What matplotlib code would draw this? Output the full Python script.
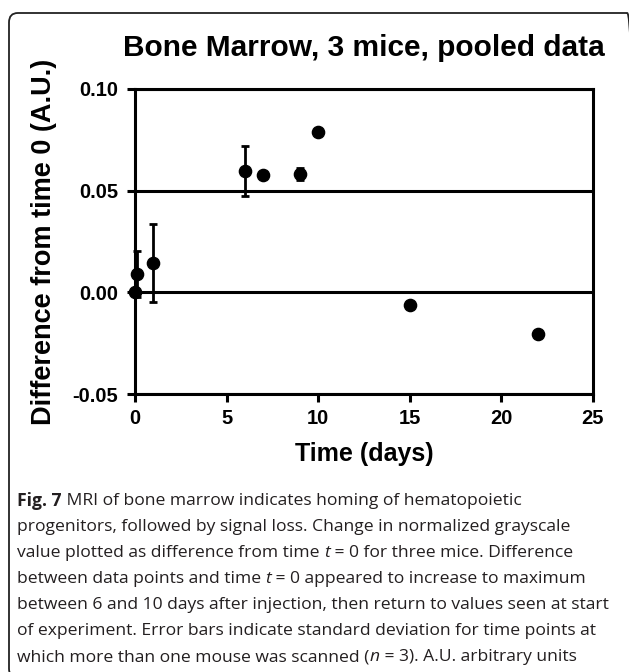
import matplotlib
matplotlib.use("Agg")
import matplotlib.pyplot as plt
from matplotlib.patches import FancyBboxPatch

# ---- data ----
time_days = [0, 0.1, 1, 6, 7, 9, 10, 15, 22]
diff_values = [0.0, 0.0088, 0.0145, 0.0598, 0.0577, 0.0582, 0.0789, -0.0064, -0.0206]
err_values = [0.0, 0.0113, 0.0193, 0.0123, 0.0, 0.0030, 0.0, 0.0, 0.0]
x_ticks = [0, 5, 10, 15, 20, 25]
y_ticks = [-0.05, 0.00, 0.05, 0.10]
y_tick_labels = ["-0.05", "0.00", "0.05", "0.10"]

title = "Bone Marrow, 3 mice, pooled data"
x_label = "Time (days)"
y_label = "Difference from time 0 (A.U.)"

caption_lines = [
    [("Fig. 7", "bold"), (" MRI of bone marrow indicates homing of hematopoietic", "normal")],
    [("progenitors, followed by signal loss. Change in normalized grayscale", "normal")],
    [("value plotted as difference from time ", "normal"), ("t", "italic"), (" = 0 for three mice. Difference", "normal")],
    [("between data points and time ", "normal"), ("t", "italic"), (" = 0 appeared to increase to maximum", "normal")],
    [("between 6 and 10 days after injection, then return to values seen at start", "normal")],
    [("of experiment. Error bars indicate standard deviation for time points at", "normal")],
    [("which more than one mouse was scanned (", "normal"), ("n", "italic"), (" = 3). A.U. arbitrary units", "normal")],
]

W, H = 629, 672
fig = plt.figure(figsize=(W / 100, H / 100), dpi=100)
fig.patch.set_facecolor("white")

ax = fig.add_axes([135 / W, 1 - 394 / H, (593 - 135) / W, (394 - 89) / H])
chart_font = "Liberation Sans"
lw = 2.2

for yv in y_ticks:
    ax.axhline(yv, color="black", lw=lw, zorder=1)

ax.errorbar(time_days, diff_values, yerr=err_values, fmt="o", color="black",
            markersize=8.8, elinewidth=2.0, capsize=3.0, capthick=2.0, zorder=5,
            clip_on=False)

ax.set_xlim(0, 25)
ax.set_ylim(-0.05, 0.10)
ax.set_xticks(x_ticks)
ax.set_yticks(y_ticks)
ax.set_yticklabels(y_tick_labels)
for s in ax.spines.values():
    s.set_linewidth(lw)
    s.set_zorder(2)
ax.tick_params(axis="both", direction="out", length=5.8, width=lw)
ax.tick_params(axis="x", pad=5)
ax.tick_params(axis="y", pad=6.5)
for lab in ax.get_xticklabels() + ax.get_yticklabels():
    lab.set_fontfamily(chart_font)
    lab.set_fontweight("bold")
    lab.set_fontsize(14.5)

ax.set_xlabel(x_label, fontfamily=chart_font, fontweight="bold", fontsize=18, labelpad=10)
ax.set_ylabel(y_label, fontfamily=chart_font, fontweight="bold", fontsize=19.5, labelpad=11)

fig.text(364 / W, 1 - 48 / H, title, ha="center", va="center",
         fontfamily=chart_font, fontweight="bold", fontsize=21.5)

# border
border = FancyBboxPatch((9 / W, 1 - 678 / H), (636 - 9) / W, (678 - 13) / H,
                        boxstyle="round,pad=0,rounding_size=0.014",
                        transform=fig.transFigure, fill=False,
                        edgecolor="#222222", lw=1.3, clip_on=False)
fig.patches.append(border)

# caption
cap_font = "Open Sans"
cap_size = 12.6
fig.canvas.draw()
renderer = fig.canvas.get_renderer()
y0 = 501
for i, line in enumerate(caption_lines):
    x = 17
    y = 1 - (y0 + i * 26) / H
    for txt, style in line:
        t = fig.text(x / W, y, txt, ha="left", va="center", fontfamily=cap_font,
                     fontsize=cap_size,
                     fontweight="bold" if style == "bold" else "normal",
                     fontstyle="italic" if style == "italic" else "normal",
                     color="#231f20")
        bb = t.get_window_extent(renderer=renderer)
        x += bb.width

fig.savefig("out.png", dpi=100)
